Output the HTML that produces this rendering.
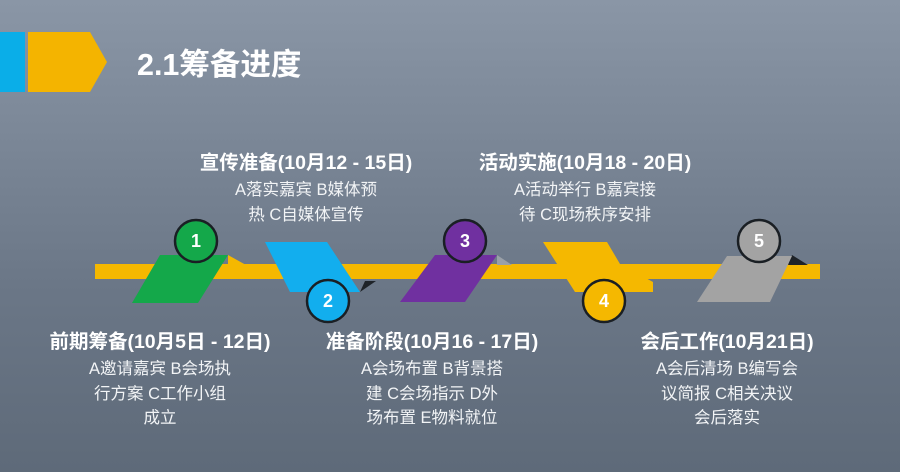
<!DOCTYPE html>
<html><head><meta charset="utf-8"><style>
html,body{margin:0;padding:0;}
body{width:900px;height:472px;overflow:hidden;background:linear-gradient(#8a96a6,#6b7787 60%,#5e6a79);}
svg{display:block;font-family:"Liberation Sans","Noto Sans CJK SC",sans-serif;}
.h{font-size:19.5px;font-weight:bold;fill:#fff;text-anchor:middle;}
.b{font-size:16.5px;fill:#f2f4f6;text-anchor:middle;}
.n{font-size:18px;font-weight:bold;fill:#fff;text-anchor:middle;}
</style></head><body>
<svg width="900" height="472" viewBox="0 0 900 472">
<rect x="0" y="32" width="25" height="60" fill="#0aaee8"/>
<polygon points="28,32 90,32 107,62 90,92 28,92" fill="#f4b400"/>
<text x="137" y="75" font-size="30.5" font-weight="bold" fill="#fff">2.1筹备进度</text>

<rect x="95" y="264" width="725" height="15" fill="#f5b800"/>
<polygon points="228,255 246,265 228,265" fill="#f5b800"/>
<polygon points="160,255 228,255 198,303 132,303" fill="#14a84a"/>
<polygon points="360,292 376,281 365,281" fill="#1e2328"/>
<polygon points="265,242 327,242 360,292 290,292" fill="#12aeee"/>
<polygon points="497,255 512,265 497,265" fill="#9aa0a8"/>
<polygon points="435,255 497,255 465,302 400,302" fill="#7030a0"/>
<polygon points="543,242 607,242 620,264 653,282 653,292 575,292" fill="#f5b800"/>
<polygon points="792,255 808,265 788,265" fill="#1e2328"/>
<polygon points="727,256 792,256 770,302 697,302" fill="#a3a3a3"/>

<g stroke="#1a1f24" stroke-width="2.5">
<circle cx="196" cy="241" r="21" fill="#14a84a"/>
<circle cx="328" cy="301" r="21" fill="#12aeee"/>
<circle cx="465" cy="241" r="21" fill="#7030a0"/>
<circle cx="604" cy="301" r="21" fill="#f5b800"/>
<circle cx="759" cy="241" r="21" fill="#a3a3a3"/>
</g>
<text class="n" x="196" y="247">1</text>
<text class="n" x="328" y="307">2</text>
<text class="n" x="465" y="247">3</text>
<text class="n" x="604" y="307">4</text>
<text class="n" x="759" y="247">5</text>

<text class="h" x="306" y="169">宣传准备(10月12 - 15日)</text>
<text class="b" x="306" y="195">A落实嘉宾  B媒体预</text>
<text class="b" x="306" y="220">热  C自媒体宣传</text>

<text class="h" x="585" y="169">活动实施(10月18 - 20日)</text>
<text class="b" x="585" y="195">A活动举行  B嘉宾接</text>
<text class="b" x="585" y="220">待  C现场秩序安排</text>

<text class="h" x="160" y="348">前期筹备(10月5日 - 12日)</text>
<text class="b" x="160" y="374">A邀请嘉宾 B会场执</text>
<text class="b" x="160" y="399">行方案  C工作小组</text>
<text class="b" x="160" y="423">成立</text>

<text class="h" x="432" y="348">准备阶段(10月16 - 17日)</text>
<text class="b" x="432" y="374">A会场布置  B背景搭</text>
<text class="b" x="432" y="399">建  C会场指示 D外</text>
<text class="b" x="432" y="423">场布置  E物料就位</text>

<text class="h" x="727" y="348">会后工作(10月21日)</text>
<text class="b" x="727" y="374">A会后清场  B编写会</text>
<text class="b" x="727" y="399">议简报  C相关决议</text>
<text class="b" x="727" y="423">会后落实</text>
</svg>
</body></html>
